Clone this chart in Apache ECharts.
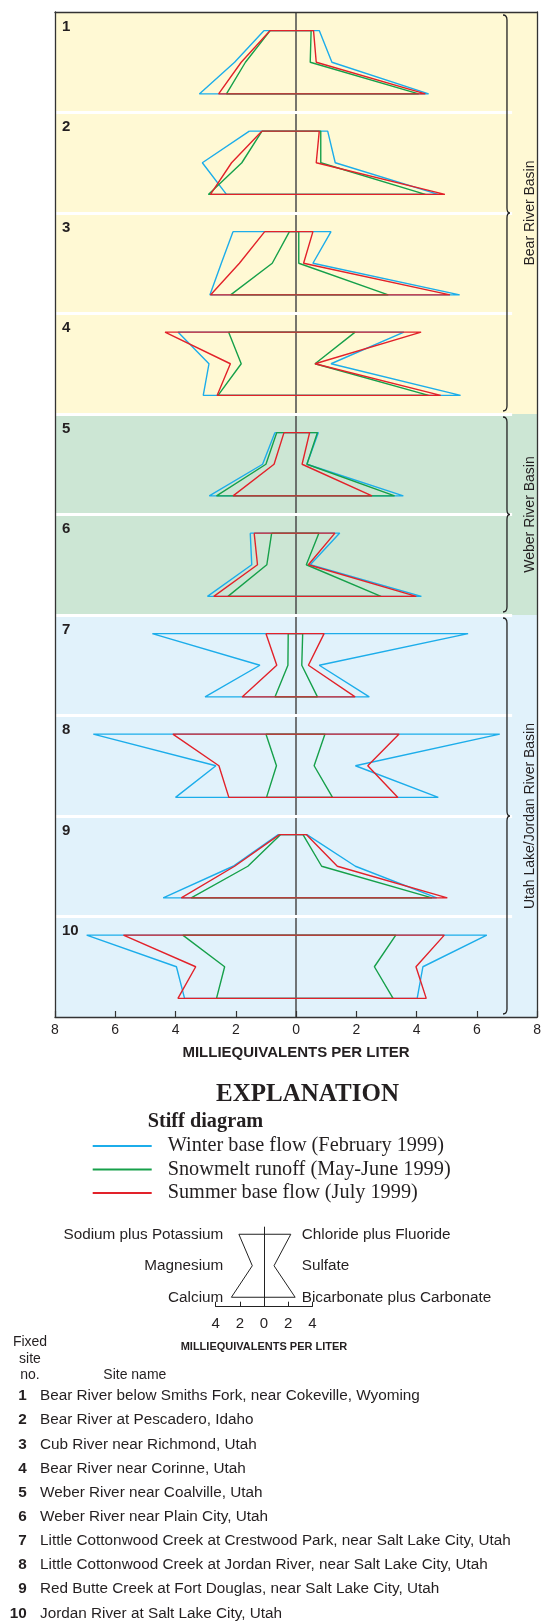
<!DOCTYPE html>
<html><head><meta charset="utf-8">
<script src="https://cdn.jsdelivr.net/npm/echarts@6/dist/echarts.min.js"></script>
<style>html,body{margin:0;padding:0;background:#fff}#c{width:544px;height:1621px}</style>
</head><body><div id="c"></div>
<script>
// ---------------- DATA ----------------
const siteNumbers = ['1','2','3','4','5','6','7','8','9','10'];
const siteNames = [
  'Bear River below Smiths Fork, near Cokeville, Wyoming',
  'Bear River at Pescadero, Idaho',
  'Cub River near Richmond, Utah',
  'Bear River near Corinne, Utah',
  'Weber River near Coalville, Utah',
  'Weber River near Plain City, Utah',
  'Little Cottonwood Creek at Crestwood Park, near Salt Lake City, Utah',
  'Little Cottonwood Creek at Jordan River, near Salt Lake City, Utah',
  'Red Butte Creek at Fort Douglas, near Salt Lake City, Utah',
  'Jordan River at Salt Lake City, Utah'
];
// ion order: [Na+K, Mg, Ca, Cl+F, SO4, HCO3+CO3] in meq/L
const ions = ['Sodium plus Potassium','Magnesium','Calcium','Chloride plus Fluoride','Sulfate','Bicarbonate plus Carbonate'];
const seasons = ['Winter base flow (February 1999)','Snowmelt runoff (May-June 1999)','Summer base flow (July 1999)'];
const winter = [
  [1.06,2.04,3.21,0.77,1.19,4.40],
  [1.55,3.11,2.31,1.05,1.30,4.72],
  [2.09,2.48,2.86,1.16,0.56,5.43],
  [3.92,2.89,3.08,3.58,1.16,5.46],
  [0.70,1.11,2.88,0.74,0.36,3.56],
  [1.52,1.47,2.94,1.45,0.47,4.16],
  [4.77,1.20,3.02,5.71,0.77,2.43],
  [6.73,2.66,4.00,6.76,1.97,4.72],
  [0.59,2.09,4.41,0.36,1.97,4.67],
  [6.95,3.97,3.70,6.33,4.21,4.02]
];
const snowmelt = [
  [0.86,1.68,2.31,0.50,0.47,4.07],
  [1.13,1.80,2.91,0.82,0.82,4.29],
  [0.22,0.79,2.17,0.09,0.09,3.06],
  [2.24,1.82,2.59,1.96,0.63,4.40],
  [0.64,1.00,2.64,0.71,0.36,3.27],
  [0.81,0.97,2.26,0.76,0.34,2.82],
  [0.26,0.27,0.70,0.22,0.19,0.71],
  [1.00,0.65,0.98,0.96,0.60,1.21],
  [0.51,1.60,3.48,0.23,0.85,4.51],
  [3.76,2.37,2.64,3.31,2.60,3.22]
];
const summer = [
  [0.86,1.82,2.57,0.58,0.67,4.29],
  [1.13,2.14,2.84,0.77,0.67,4.94],
  [1.04,1.88,2.84,0.56,0.25,5.11],
  [4.35,2.18,2.62,4.15,0.63,4.80],
  [0.40,0.73,2.09,0.45,0.20,2.52],
  [1.39,1.28,2.73,1.29,0.41,3.99],
  [1.00,0.64,1.79,0.93,0.41,1.96],
  [4.09,2.56,2.23,3.42,2.38,3.38],
  [0.55,2.04,3.81,0.34,1.37,5.02],
  [5.73,3.33,3.92,4.92,3.98,4.32]
];
const basins = ['Bear River Basin','Weber River Basin','Utah Lake/Jordan River Basin'];
const basinStart = [0,4,6];   // first panel index
const basinEnd = [4,6,10];    // panel index after last
const xTickValues = [-8,-6,-4,-2,0,2,4,6,8];
const miniValues = [2.08,0.97,2.70,2.22,0.83,2.58];
const miniTickValues = [-4,-2,0,2,4];

// ---------------- STYLE ----------------
const seasonColors = ['#1cadea','#16a04a','#e2222a'];
const basinColors = ['#fff9d4','#cce6d4','#e1f2fb'];
const ROW = [0.185,0.5,0.815];
const MINI_ROW = [2.3,1.3,0.3];
const SANS = '"Liberation Sans", Arial, sans-serif';
const SERIF = '"Liberation Serif", "Times New Roman", serif';
const INK = '#231f20';

function polygon(v, k, rows){
  return [[-v[0],k+rows[0]],[-v[1],k+rows[1]],[-v[2],k+rows[2]],
          [v[5],k+rows[2]],[v[4],k+rows[1]],[v[3],k+rows[0]],[-v[0],k+rows[0]]];
}

const chart = echarts.init(document.getElementById('c'), null, {renderer:'canvas'});

const series = [];
// backgrounds
series.push({
  type:'line', data:[], xAxisIndex:0, yAxisIndex:0, z:1, silent:true,
  markArea:{silent:true, data: basins.map((b,i)=>[
    {xAxis:-8, yAxis:basinStart[i], itemStyle:{color:basinColors[i]}},
    {xAxis:8, yAxis:basinEnd[i]}])},
});
// zero line
series.push({
  type:'line', data:[], xAxisIndex:0, yAxisIndex:0, z:2, silent:true,
  markLine:{silent:true, symbol:['none','none'], label:{show:false},
    lineStyle:{color:'#4a4a4a', width:1.5, type:'solid'},
    data:[{xAxis:0}]}
});
// white panel separators
series.push({
  type:'line', data:[], xAxisIndex:0, yAxisIndex:0, z:3, silent:true,
  markLine:{silent:true, symbol:['none','none'], label:{show:false},
    lineStyle:{color:'#ffffff', width:3, type:'solid'},
    data:[1,2,3,4,5,6,7,8,9].map(k=>[{coord:[-8,k]},{coord:[7.17,k]}])}
});
// braces
series.push({
  type:'custom', xAxisIndex:0, yAxisIndex:0, z:5, silent:true,
  data: basins.map((b,i)=>[7.0, basinStart[i], basinEnd[i]]),
  renderItem:(params, api)=>{
    const t = api.coord([api.value(0), api.value(1)]);
    const b = api.coord([api.value(0), api.value(2)]);
    const x = t[0], yt = t[1]+3, yb = b[1]-3, ym = (yt+yb)/2;
    const d = `M${x-4} ${yt} Q${x} ${yt} ${x} ${yt+5} L${x} ${ym-5} Q${x} ${ym} ${x+3} ${ym} Q${x} ${ym} ${x} ${ym+5} L${x} ${yb-5} Q${x} ${yb} ${x-4} ${yb}`;
    return {type:'path', shape:{pathData:d}, style:{stroke:'#222', lineWidth:1.3, fill:null}};
  }
});
// stiff polygons
const seasonData = [winter, snowmelt, summer];
seasonData.forEach((arr, s)=>{
  arr.forEach((v,k)=>{
    series.push({
      type:'line', name:seasons[s], xAxisIndex:0, yAxisIndex:0, z:10+s,
      data: polygon(v,k,ROW), symbol:'none', showSymbol:false,
      lineStyle:{color:seasonColors[s], width:1.4}, itemStyle:{color:seasonColors[s]},
      silent:true, animation:false
    });
  });
});
// mini explanation diagram
series.push({
  type:'line', xAxisIndex:2, yAxisIndex:2, z:10, data: polygon(miniValues,0,MINI_ROW),
  symbol:'none', lineStyle:{color:'#222', width:1}, silent:true,
  markLine:{silent:true, symbol:['none','none'], label:{show:false},
    lineStyle:{color:'#222', width:1, type:'solid'}, data:[{xAxis:0}]}
});

const axisLineStyle = {color:'#333', width:1.3};
const graphic = [];
// panel numbers
siteNumbers.forEach((n,k)=>{
  graphic.push({type:'text', x:62, y:12+100.5*k+14.5, z:100,
    style:{text:n, fontFamily:SANS, fontWeight:'bold', fontSize:15, fill:INK, textAlign:'left', textVerticalAlign:'middle'}});
});
// basin labels
const basinCenters = basins.map((b,i)=>12+100.5*(basinStart[i]+basinEnd[i])/2);
basins.forEach((b,i)=>{
  graphic.push({type:'text', x:530, y:basinCenters[i], rotation:Math.PI/2, z:100,
    style:{text:b, fontFamily:SANS, fontSize:14, fill:INK, textAlign:'center', textVerticalAlign:'middle'}});
});
// explanation
graphic.push({type:'text', x:307.5, y:1095, style:{text:'EXPLANATION', fontFamily:SERIF, fontWeight:'bold', fontSize:25, fill:INK, textAlign:'center', textVerticalAlign:'middle'}});
graphic.push({type:'text', x:147.7, y:1122, style:{text:'Stiff diagram', fontFamily:SERIF, fontWeight:'bold', fontSize:20.3, fill:INK, textAlign:'left', textVerticalAlign:'middle'}});
const miniRowsY = [1234.3,1266,1297.3];
[0,1,2].forEach(j=>{
  graphic.push({type:'text', x:223.3, y:miniRowsY[j], style:{text:ions[j], fontFamily:SANS, fontSize:15.3, fill:INK, textAlign:'right', textVerticalAlign:'middle'}});
  graphic.push({type:'text', x:301.7, y:miniRowsY[j], style:{text:ions[3+j], fontFamily:SANS, fontSize:15.3, fill:INK, textAlign:'left', textVerticalAlign:'middle'}});
});
['Fixed','site','no.'].forEach((t,i)=>{
  graphic.push({type:'text', x:30, y:1342+16.7*i, style:{text:t, fontFamily:SANS, fontSize:14, fill:INK, textAlign:'center', textVerticalAlign:'middle'}});
});
graphic.push({type:'text', x:103.3, y:1375.4, style:{text:'Site name', fontFamily:SANS, fontSize:14, fill:INK, textAlign:'left', textVerticalAlign:'middle'}});
siteNames.forEach((nm,i)=>{
  const y = 1396+24.15*i;
  graphic.push({type:'text', x:26.7, y, style:{text:siteNumbers[i], fontFamily:SANS, fontWeight:'bold', fontSize:15.3, fill:INK, textAlign:'right', textVerticalAlign:'middle'}});
  graphic.push({type:'text', x:40, y, style:{text:nm, fontFamily:SANS, fontSize:15.3, fill:INK, textAlign:'left', textVerticalAlign:'middle'}});
});

const option = {
  animation:false,
  backgroundColor:'#ffffff',
  grid:[
    {left:55, right:2, top:12, bottom:604, containLabel:false},
    {left:215.7, width:96.6, top:1226.7, height:80, containLabel:false}
  ],
  legend:{
    data:seasons, orient:'vertical', left:92.7, top:1136, padding:0,
    icon:'rect', itemWidth:59, itemHeight:2, itemGap:3.5, selectedMode:false,
    textStyle:{fontFamily:SERIF, fontSize:20.3, lineHeight:20, color:INK, padding:[0,0,0,11]}
  },
  xAxis:[
    {type:'value', gridIndex:0, min:-8, max:8, interval:2, position:'bottom', z:20,
     axisLine:{show:true, onZero:false, lineStyle:axisLineStyle},
     axisTick:{show:true, inside:true, length:6, lineStyle:{color:'#333', width:1.2}},
     axisLabel:{show:true, fontFamily:SANS, fontSize:14, color:INK, margin:6, formatter:v=>String(Math.abs(v))},
     splitLine:{show:false},
     name:'MILLIEQUIVALENTS PER LITER', nameLocation:'middle', nameGap:28,
     nameTextStyle:{fontFamily:SANS, fontWeight:'bold', fontSize:15, color:INK}},
    {type:'value', gridIndex:0, min:-8, max:8, position:'top', z:20,
     axisLine:{show:true, onZero:false, lineStyle:axisLineStyle},
     axisTick:{show:false}, axisLabel:{show:false}, splitLine:{show:false}},
    {type:'value', gridIndex:1, min:-4, max:4, interval:2, position:'bottom',
     axisLine:{show:true, onZero:false, lineStyle:{color:'#222', width:1}},
     axisTick:{show:true, inside:true, length:5, lineStyle:{color:'#222', width:1}},
     axisLabel:{show:true, fontFamily:SANS, fontSize:15, color:INK, margin:10, formatter:v=>String(Math.abs(v))},
     splitLine:{show:false},
     name:'MILLIEQUIVALENTS PER LITER', nameLocation:'middle', nameGap:35,
     nameTextStyle:{fontFamily:SANS, fontWeight:'bold', fontSize:11, color:INK}}
  ],
  yAxis:[
    {type:'value', gridIndex:0, min:0, max:10, inverse:true, position:'left', z:20,
     axisLine:{show:true, onZero:false, lineStyle:axisLineStyle},
     axisTick:{show:false}, axisLabel:{show:false}, splitLine:{show:false}},
    {type:'value', gridIndex:0, min:0, max:10, inverse:true, position:'right', z:20,
     axisLine:{show:true, onZero:false, lineStyle:axisLineStyle},
     axisTick:{show:false}, axisLabel:{show:false}, splitLine:{show:false}},
    {type:'value', gridIndex:1, min:0, max:2.54, show:false, splitLine:{show:false}}
  ],
  series,
  graphic
};
chart.setOption(option);
</script></body></html>
